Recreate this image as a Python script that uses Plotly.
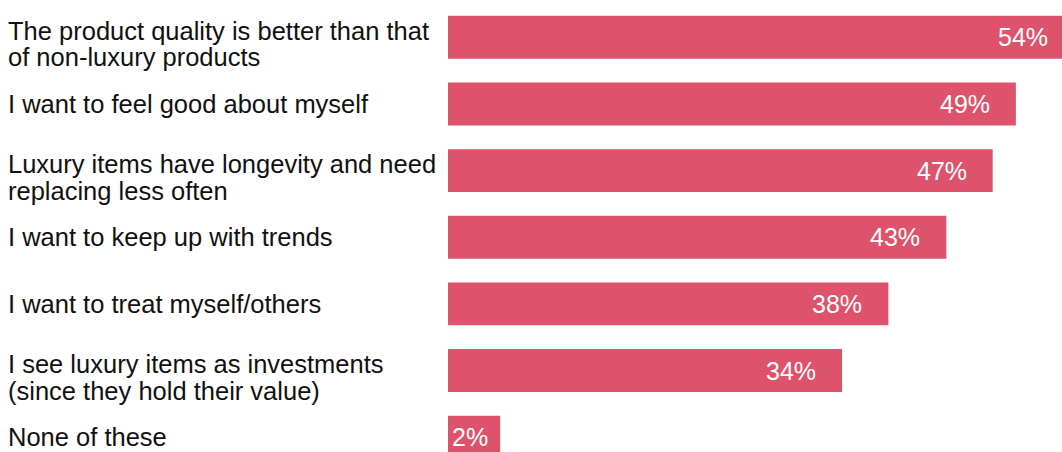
import plotly.graph_objects as go

# ---- data ----
categories = [
    "The product quality is better than that<br>of non-luxury products",
    "I want to feel good about myself",
    "Luxury items have longevity and need<br>replacing less often",
    "I want to keep up with trends",
    "I want to treat myself/others",
    "I see luxury items as investments<br>(since they hold their value)",
    "None of these",
]
values = [54, 49, 47, 43, 38, 34, 2]
value_labels = ["54%", "49%", "47%", "43%", "38%", "34%", "2%"]

# ---- style ----
BAR_COLOR = "#DD536B"
TEXT_COLOR = "#111111"
FONT = "Liberation Sans, Arial, Helvetica, sans-serif"
MIN_BAR = 4.5          # minimum drawn bar length so the label fits
X_MAX = 52.98
LABEL_SIZE = 25.5
VALUE_SIZE = 25

positions = list(range(len(categories)))
drawn = [max(v, MIN_BAR) for v in values]

fig = go.Figure(
    go.Bar(
        x=drawn,
        y=positions,
        orientation="h",
        marker=dict(color=BAR_COLOR, line=dict(width=0)),
        width=0.645,
        hoverinfo="skip",
    )
)

annotations = []
# category labels (left aligned, each line placed separately for tight leading)
for pos, cat in zip(positions, categories):
    lines = cat.split("<br>")
    n = len(lines)
    for k, line in enumerate(lines):
        shift = (n - 1) / 2 * 13.4 - k * 26.8
        annotations.append(dict(
            xref="paper", yref="y", x=-0.7199, y=pos,
            text=line, showarrow=False,
            xanchor="left", yanchor="middle", align="left",
            yshift=shift,
            font=dict(family=FONT, size=LABEL_SIZE, color=TEXT_COLOR),
        ))

# value labels inside bar ends
for pos, v, d, lab in zip(positions, values, drawn, value_labels):
    if v < MIN_BAR:
        annotations.append(dict(
            xref="x", yref="y", x=0, y=pos, text=lab, showarrow=False,
            xanchor="left", yanchor="middle", xshift=2,
            font=dict(family=FONT, size=VALUE_SIZE, color="white"),
        ))
    else:
        annotations.append(dict(
            xref="x", yref="y", x=0, y=pos,
            axref="x", ayref="y", ax=d, ay=pos,
            text=lab, showarrow=True, arrowcolor="rgba(0,0,0,0)",
            arrowwidth=0.1, arrowhead=0,
            xanchor="right", yanchor="middle", xshift=-24,
            font=dict(family=FONT, size=VALUE_SIZE, color="white"),
        ))

fig.update_layout(
    width=1062, height=452,
    margin=dict(l=448, r=0, t=0, b=0, pad=0),
    paper_bgcolor="white", plot_bgcolor="white",
    showlegend=False,
    xaxis=dict(range=[0, X_MAX], visible=False, fixedrange=True),
    yaxis=dict(range=[6.223, -0.5606], visible=False, fixedrange=True),
    annotations=annotations,
    font=dict(family=FONT),
)

fig.write_html(
    "out.html",
    config={"displayModeBar": False, "staticPlot": True},
    post_script="document.body.style.margin='0';document.body.style.overflow='hidden';",
)
